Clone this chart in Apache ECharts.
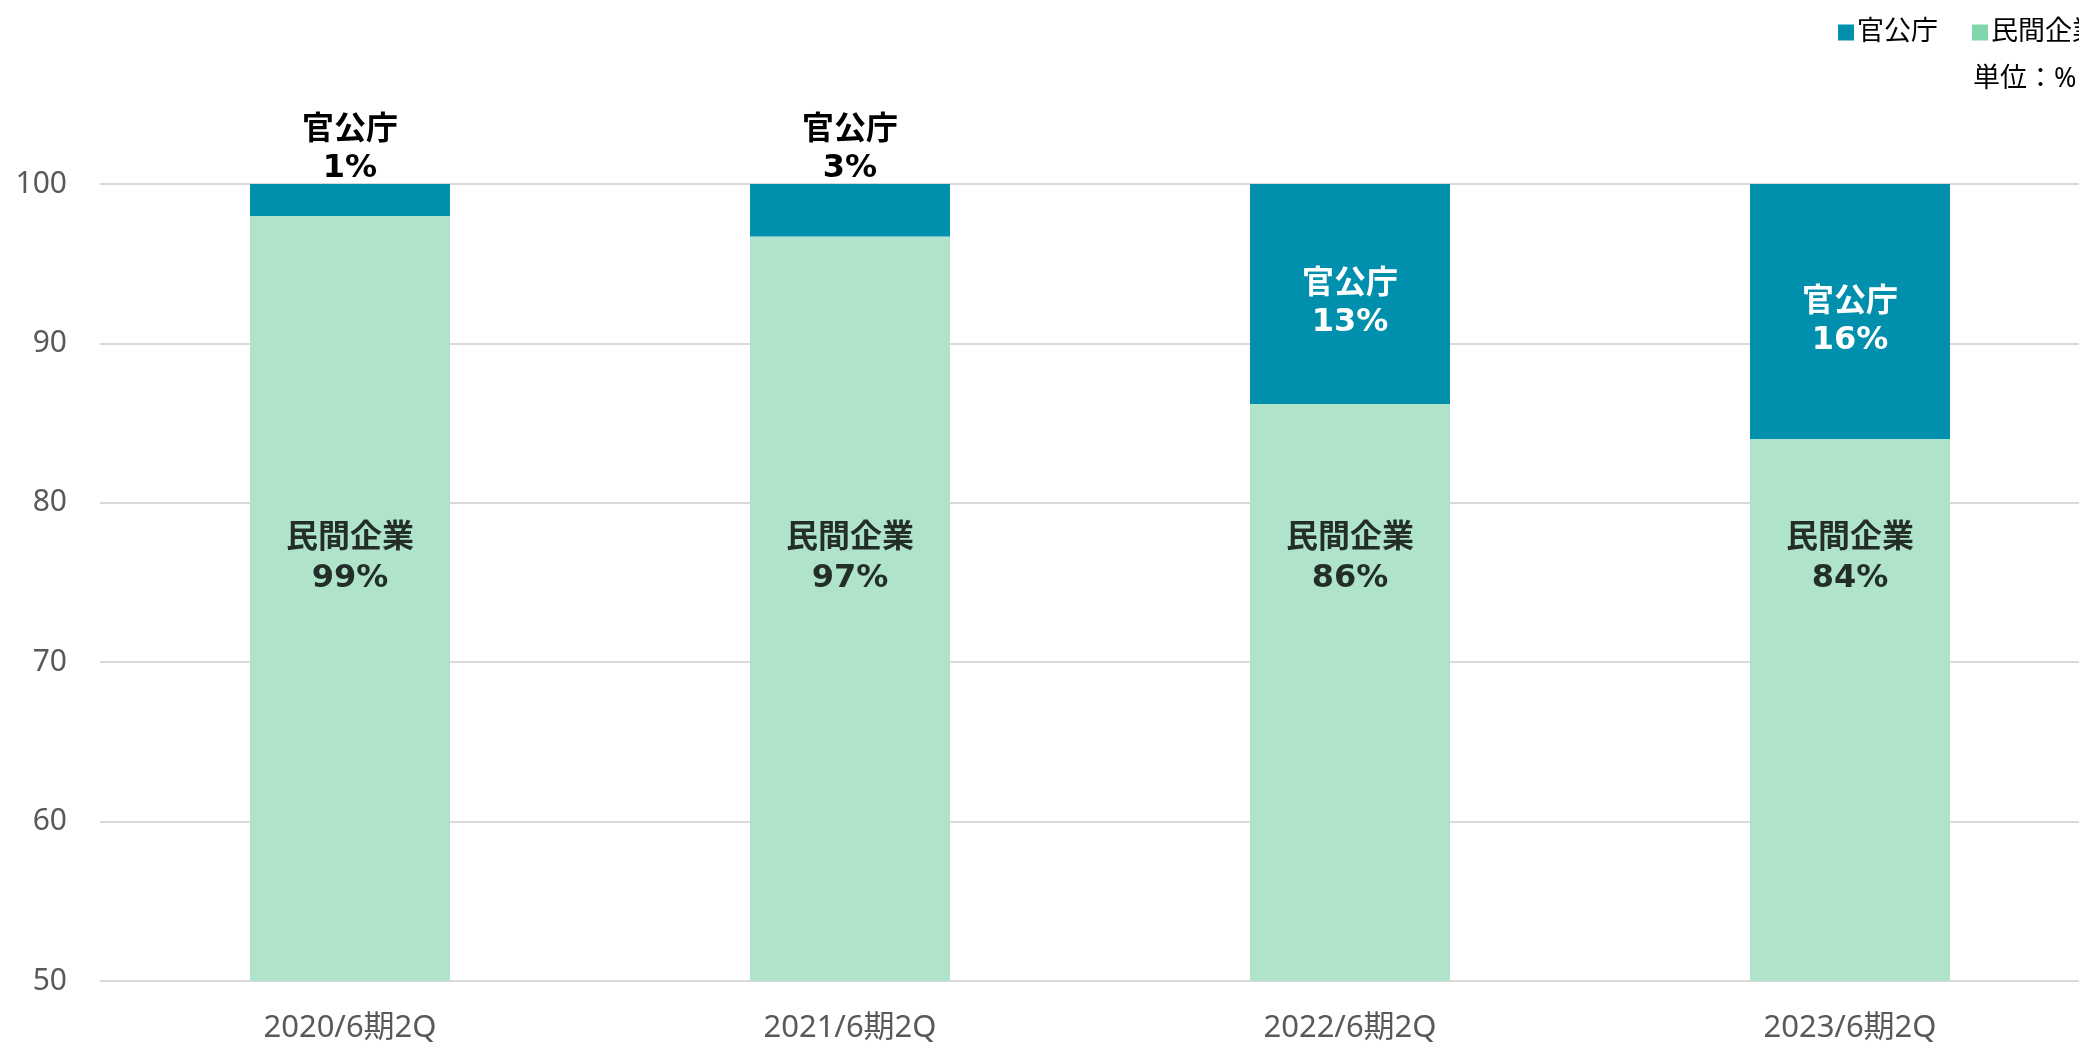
<!DOCTYPE html>
<html>
<head>
<meta charset="utf-8">
<script src="https://cdn.jsdelivr.net/npm/echarts@6/dist/echarts.min.js"></script>
<style>
  html, body { margin: 0; padding: 0; background: #fff; overflow: hidden; }
  /* 元の図は右端が切れているので、少し広く描いてはみ出させる */
  #main { width: 2100px; height: 1046px; }
</style>
</head>
<body>
<div id="main"></div>
<script>
// 期ごとのデータ（単位：%）
const categories = ['2020/6期2Q', '2021/6期2Q', '2022/6期2Q', '2023/6期2Q'];
const privateValues = [98.0, 96.7, 86.2, 84.0];   // 民間企業（棒の高さ）
const govValues = [2.0, 3.3, 13.8, 16.0];         // 官公庁（棒の高さ）
const privateLabels = [99, 97, 86, 84];           // 表示ラベル
const govLabels = [1, 3, 13, 16];
const yTicks = [50, 60, 70, 80, 90, 100];

const privateLabelY = 76.5; // 民間企業ラベルの縦位置（軸の値）

const FONT = '"Noto Sans", "Noto Sans CJK JP", sans-serif';
const BOLD_FONT = '"DejaVu Sans", "Noto Sans CJK JP", sans-serif';
const tealColor = '#008FAD';
const greenBar = '#AFE4CB';
const greenLegend = '#7FD6AA';

let chart = echarts.init(document.getElementById('main'));

const option = {
    animation: false,
    textStyle: { fontFamily: FONT },
    legend: {
        left: 1833,
        top: 14,
        width: 400,
        orient: 'horizontal',
        itemWidth: 16,
        itemHeight: 16,
        itemGap: 34,
        icon: 'rect',
        textStyle: { fontSize: 27, color: '#000', fontFamily: FONT, padding: [0, 0, 0, -2] },
        data: [
            { name: '官公庁', itemStyle: { color: tealColor } },
            { name: '民間企業', itemStyle: { color: greenLegend } }
        ]
    },
    graphic: [{
        type: 'text',
        left: 1973,
        top: 66,
        style: { text: '単位：%', font: '27px ' + FONT, fill: '#000' }
    }],
    grid: {
        left: 100,
        right: 0,
        top: 184,
        bottom: 65
    },
    xAxis: {
        type: 'category',
        data: categories,
        axisLine: { show: false },
        axisTick: { show: false },
        axisLabel: { fontSize: 31, color: '#595959', margin: 32, fontFamily: FONT }
    },
    yAxis: {
        type: 'value',
        min: yTicks[0],
        max: yTicks[yTicks.length - 1],
        interval: 10,
        axisLine: { show: false },
        axisTick: { show: false },
        axisLabel: { fontSize: 30, color: '#595959', margin: 33, fontFamily: FONT },
        splitLine: { lineStyle: { color: '#D9D9D9', width: 2 } }
    },
    series: [
        {
            name: '民間企業',
            type: 'bar',
            stack: 'total',
            barWidth: 200,
            itemStyle: { color: greenBar },
            data: privateValues
        },
        {
            name: '官公庁',
            type: 'bar',
            stack: 'total',
            barWidth: 200,
            itemStyle: { color: tealColor },
            data: govValues.map((v, i) => {
                const outside = i < 2;
                return {
                    value: v,
                    label: {
                        show: true,
                        position: outside ? 'top' : 'inside',
                        distance: outside ? -4 : 5,
                        offset: outside ? [0, 0] : [0, 10],
                        color: outside ? '#000' : '#fff',
                        fontSize: 32,
                        fontWeight: 'bold',
                        lineHeight: 38,
                        fontFamily: BOLD_FONT,
                        formatter: '官公庁\n' + govLabels[i] + '%'
                    }
                };
            })
        },
        {
            name: 'privateLabel',
            type: 'scatter',
            symbolSize: 0,
            silent: true,
            z: 10,
            data: categories.map((c) => [c, privateLabelY]),
            label: {
                show: true,
                position: 'inside',
                color: '#000',
                fontSize: 32,
                fontWeight: 'bold',
                lineHeight: 40,
                fontFamily: BOLD_FONT,
                formatter: p => '民間企業\n' + privateLabels[p.dataIndex] + '%'
            }
        }
    ]
};

chart.setOption(option);
</script>
</body>
</html>
